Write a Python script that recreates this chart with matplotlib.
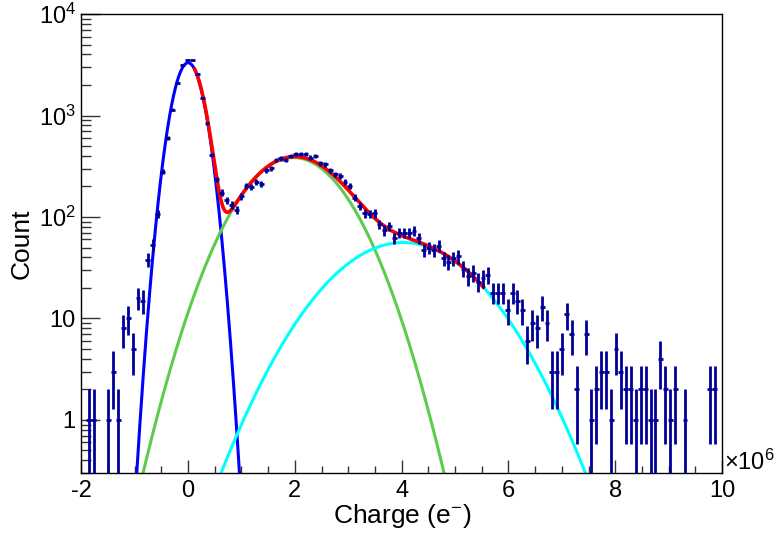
import numpy as np
import matplotlib
matplotlib.use("Agg")
import matplotlib.pyplot as plt
from matplotlib.ticker import FixedLocator, FixedFormatter, NullFormatter

plt.rcParams["font.family"] = ["Liberation Sans", "DejaVu Sans"]
plt.rcParams["mathtext.fontset"] = "custom"
plt.rcParams["mathtext.rm"] = "Liberation Sans"
plt.rcParams["mathtext.default"] = "regular"
plt.rcParams["axes.unicode_minus"] = False

# histogram: 130 bins between -2e6 and 10e6 (x in units of 1e6 e)
X_MIN, X_MAX, N_BINS = -2.0, 10.0, 130

# bin contents, bin 0 .. 129
COUNTS = [
    0, 1, 1, 0, 0, 1, 3, 1, 8, 10,
    5, 16, 15, 38, 53, 108, 279, 604, 1140, 2090,
    3170, 3540, 3500, 2550, 1500, 840, 410, 235, 174, 147,
    131, 117, 161, 202, 199, 223, 213, 288, 302, 365,
    379, 365, 400, 415, 415, 415, 384, 400, 338, 330,
    290, 264, 254, 223, 202, 155, 128, 109, 108, 109,
    85, 74, 81, 62, 70, 70, 70, 73, 62, 47,
    50, 47, 52, 39, 36, 39, 41, 31, 26, 28,
    23, 25, 27, 18, 18, 18, 12, 18, 15, 12,
    6, 9, 8, 13, 9, 3, 3, 5, 11, 7,
    2, 0, 7, 1, 2, 3, 3, 1, 5, 3,
    2, 2, 1, 2, 2, 1, 1, 4, 2, 1,
    2, 0, 1, 0, 0, 0, 0, 2, 2, 0,
]

# fitted components: (amplitude, mean, sigma)
PEDESTAL = (3310.0, 0.0, 0.223)
SPE = (385.0, 1.975, 0.745)
DPE = (56.0, 4.03, 1.055)
FIT_RANGE = (0.125, 5.53)

Y_TICKS = [1, 10, 100, 1000, 10000]
Y_TICKLABELS = ["1", "10", "$10^{2}$", "$10^{3}$", "$10^{4}$"]
X_TICKS = [-2, 0, 2, 4, 6, 8, 10]


def gaus(x, p):
    a, m, s = p
    return a * np.exp(-0.5 * ((x - m) / s) ** 2)


edges = np.linspace(X_MIN, X_MAX, N_BINS + 1)
centers = 0.5 * (edges[1:] + edges[:-1])
half = 0.5 * (edges[1] - edges[0])
counts = np.array(COUNTS, dtype=float)
keep = counts > 0
xc, yc = centers[keep], counts[keep]
err = np.sqrt(yc)
lo = np.minimum(err, yc - 1e-3)

fig = plt.figure(figsize=(7.79, 5.33), dpi=100)
ax = fig.add_axes([0.1044, 0.112, 0.8224, 0.8617])

ax.errorbar(xc, yc, xerr=half, yerr=[lo, err], fmt="none",
            ecolor="#000099", elinewidth=2.0, capsize=0, zorder=4)

xx = np.linspace(X_MIN, X_MAX, 2000)
ax.plot(xx, gaus(xx, PEDESTAL), color="#0000ff", lw=2.2, zorder=2)
ax.plot(xx, gaus(xx, SPE), color="#5ccc4c", lw=2.2, zorder=2)
ax.plot(xx, gaus(xx, DPE), color="#00ffff", lw=2.2, zorder=2)
xf = np.linspace(*FIT_RANGE, 1000)
ax.plot(xf, gaus(xf, PEDESTAL) + gaus(xf, SPE) + gaus(xf, DPE),
        color="#ff0000", lw=2.6, zorder=3)

ax.set_yscale("log")
ax.set_xlim(X_MIN, X_MAX)
ax.set_ylim(0.298, 1e4)

ax.yaxis.set_major_locator(FixedLocator(Y_TICKS))
ax.yaxis.set_major_formatter(FixedFormatter(Y_TICKLABELS))
minors = [m * 10.0 ** e for e in range(-1, 4) for m in range(2, 10)]
ax.yaxis.set_minor_locator(FixedLocator(minors))
ax.yaxis.set_minor_formatter(NullFormatter())
ax.xaxis.set_major_locator(FixedLocator(X_TICKS))
ax.xaxis.set_minor_locator(FixedLocator(np.arange(-2, 10.01, 0.5)))

ax.tick_params(axis="both", which="both", direction="in", top=False, right=False,
               labelsize=17, width=1.0, color="#333333")
ax.tick_params(axis="y", which="major", length=13.7, pad=4)
ax.tick_params(axis="y", which="minor", length=7.2)
ax.tick_params(axis="x", which="major", length=9.4, pad=5)
ax.tick_params(axis="x", which="minor", length=5)
for sp in ax.spines.values():
    sp.set_linewidth(1.0)

ax.set_xlabel("Charge (e$^{-}$)", fontsize=19)
ax.set_ylabel("Count", fontsize=19)
ax.xaxis.label.set_va("center")
ax.yaxis.label.set_va("center")
ax.xaxis.set_label_coords(0.5, -0.093)
ax.yaxis.set_label_coords(-0.0926, 0.5)

fig.text(0.929, 0.133, r"$\times10^{6}$", fontsize=17, ha="left", va="center")

fig.savefig("out.png", dpi=100)
